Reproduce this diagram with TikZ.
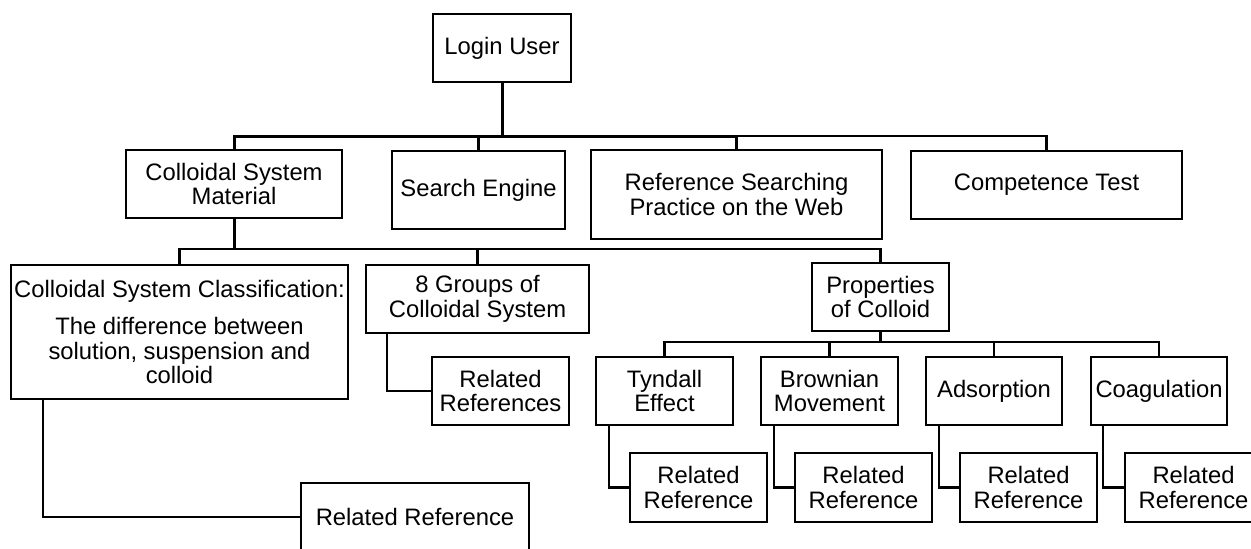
\documentclass[tikz,border=0pt]{standalone}
\usepackage{fontspec}
\setmainfont{Liberation Sans}
\begin{document}
\begin{tikzpicture}[x=0.5pt,y=-0.5pt,
  box/.style={draw=black,line width=1pt,rectangle,inner sep=0pt,align=center,
    font=\fontsize{11.9}{12.2}\selectfont},
  wire/.style={draw=black,line width=1.2pt},
  trunk/.style={draw=black,line width=1.5pt}]
\clip (0,0) rectangle (1251,548);
% level 0
\node[box,minimum width=69pt,minimum height=34pt] (login) at (502,48) {Login User};
% level 1
\node[box,minimum width=108pt,minimum height=34pt] (csm) at (234,184) {Colloidal System\\Material};
\node[box,minimum width=86.5pt,minimum height=39pt] (search) at (478.5,190) {Search Engine};
\node[box,minimum width=145.5pt,minimum height=44.5pt] (refsearch) at (736.5,194.5) {Reference Searching\\Practice on the Web};
\node[box,minimum width=135.5pt,minimum height=34pt] (comp) at (1046.5,185) {Competence Test};
% level 2
\node[box,minimum width=168.5pt,minimum height=67pt] (classif) at (179.5,332) {Colloidal System Classification:\\[6.5pt]The difference between\\solution, suspension and\\colloid};
\node[box,minimum width=111.5pt,minimum height=34pt] (groups) at (477.5,299) {8 Groups of\\Colloidal System};
\node[box,minimum width=68.5pt,minimum height=34pt] (props) at (880.5,297) {Properties\\of Colloid};
% level 3
\node[box,minimum width=68.5pt,minimum height=34pt] (relrefs) at (500.5,391) {Related\\References};
\node[box,minimum width=114pt,minimum height=34pt] (relref) at (415,517) {Related Reference};
\node[box,minimum width=68.5pt,minimum height=34pt] (tyndall) at (664.5,391) {Tyndall\\Effect};
\node[box,minimum width=68.5pt,minimum height=34pt] (brown) at (829.5,391) {Brownian\\Movement};
\node[box,minimum width=68pt,minimum height=34pt] (adsorp) at (994,391) {Adsorption};
\node[box,minimum width=68pt,minimum height=34pt] (coag) at (1159,391) {Coagulation};
% level 4
\node[box,minimum width=68.5pt,minimum height=34.5pt] (rr1) at (698.5,487.5) {Related\\Reference};
\node[box,minimum width=68.5pt,minimum height=34.5pt] (rr2) at (863.5,487.5) {Related\\Reference};
\node[box,minimum width=68.5pt,minimum height=34.5pt] (rr3) at (1028.5,487.5) {Related\\Reference};
\node[box,minimum width=68.5pt,minimum height=34.5pt] (rr4) at (1193.5,487.5) {Related\\Reference};
% bus points
\coordinate (bus1) at (502,136);
\coordinate (bus2) at (234,249);
\coordinate (bus3) at (880.5,342);
% connectors level 0 -> 1
\draw[trunk] (login.south) -- (bus1);
\draw[trunk] (csm.north) |- (bus1);
\draw[wire] (search.north) |- (bus1);
\draw[trunk] (refsearch.north) |- (bus1);
\draw[wire] (comp.north) |- (bus1);
% level 1 -> 2
\draw[trunk] (csm.south) -- (bus2);
\draw[wire] (classif.north) |- (bus2);
\draw[wire] (groups.north) |- (bus2);
\draw[wire] (props.north) |- (bus2);
% level 2 -> 3
\draw[wire] ([xshift=11pt]groups.south west) |- (relrefs.west);
\draw[wire] ([xshift=16.5pt]classif.south west) |- (relref.west);
\draw[wire] (props.south) -- (bus3);
\draw[wire] (tyndall.north) |- (bus3);
\draw[wire] (brown.north) |- (bus3);
\draw[wire] (adsorp.north) |- (bus3);
\draw[wire] (coag.north) |- (bus3);
% level 3 -> 4
\draw[wire] ([xshift=7pt]tyndall.south west) |- (rr1.west);
\draw[wire] ([xshift=7pt]brown.south west) |- (rr2.west);
\draw[wire] ([xshift=7pt]adsorp.south west) |- (rr3.west);
\draw[wire] ([xshift=6.5pt]coag.south west) |- (rr4.west);
\end{tikzpicture}
\end{document}
